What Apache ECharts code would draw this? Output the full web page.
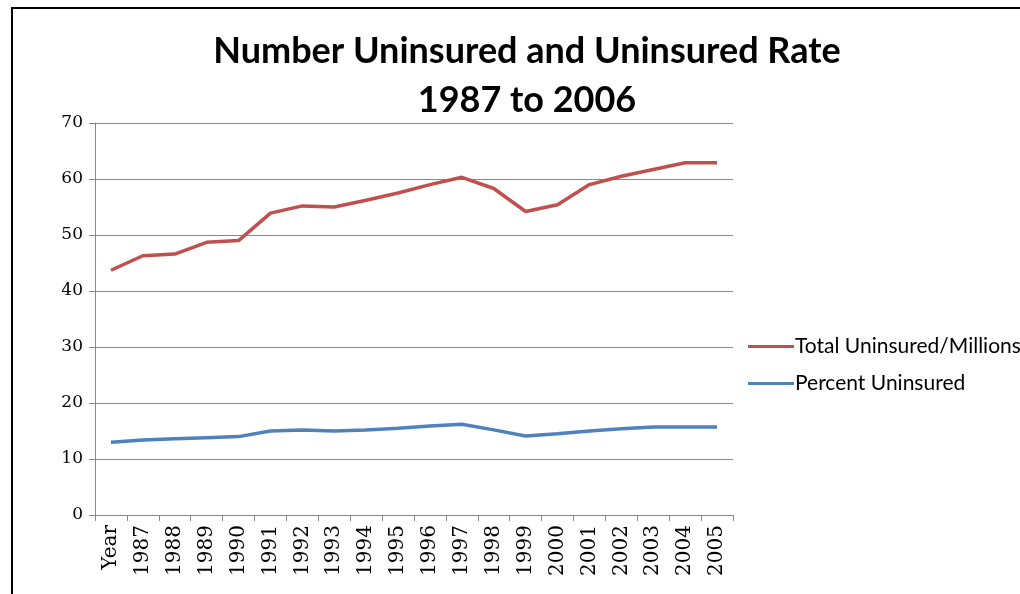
<!DOCTYPE html>
<html><head><meta charset="utf-8">
<script src="https://cdn.jsdelivr.net/npm/echarts@6/dist/echarts.min.js"></script>
<style>html,body{margin:0;padding:0;background:#fff}#c{width:1020px;height:594px}</style>
</head><body><div id="c"></div>
<script>
const categories = ["Year","1987","1988","1989","1990","1991","1992","1993","1994","1995","1996","1997","1998","1999","2000","2001","2002","2003","2004","2005"];
const totalUninsured = [43.7,46.3,46.6,48.7,49.0,53.9,55.2,55.0,56.2,57.5,59.0,60.3,58.3,54.2,55.4,59.0,60.5,61.7,62.9,62.9];
const percentUninsured = [13.0,13.4,13.6,13.8,14.0,15.0,15.2,15.0,15.2,15.5,15.9,16.2,15.2,14.1,14.5,15.0,15.4,15.7,15.7,15.7];
const yTicks = {min:0,max:70,interval:10};
const seriesNames = ["Total Uninsured/Millions","Percent Uninsured"];

const chart = echarts.init(document.getElementById('c'));
chart.setOption({
  animation:false,
  backgroundColor:'#fff',
  title:{
    text:'Number Uninsured and Uninsured Rate\n1987 to 2006',
    left:522, top:22, textAlign:'center',
    textStyle:{fontFamily:'Lato',fontWeight:'bold',fontSize:36,lineHeight:49,color:'#000'}
  },
  graphic:[{type:'polyline',shape:{points:[[12,600],[12,8],[1030,8]]},style:{stroke:'#000',lineWidth:2,fill:null}}],
  legend:{
    orient:'vertical', left:743, top:331, itemGap:16, itemWidth:46, itemHeight:3,
    icon:'rect',
    textStyle:{fontFamily:'Lato',fontSize:21,color:'#000',padding:[0,0,0,-4]},
    data:seriesNames
  },
  grid:{left:95,right:287,top:123,bottom:79,containLabel:false},
  xAxis:{
    type:'category', data:categories, boundaryGap:true,
    axisLine:{lineStyle:{color:'#888',width:1}},
    axisTick:{show:true,length:6,lineStyle:{color:'#888'}},
    axisLabel:{rotate:90,fontFamily:'DejaVu Serif',fontSize:20,color:'#000',margin:10}
  },
  yAxis:{
    type:'value', min:yTicks.min, max:yTicks.max, interval:yTicks.interval,
    axisLine:{show:true,lineStyle:{color:'#888'}},
    axisTick:{show:true,length:6,lineStyle:{color:'#888'}},
    splitLine:{lineStyle:{color:'#888',width:1}},
    axisLabel:{fontFamily:'DejaVu Serif',fontSize:17,color:'#000',margin:12}
  },
  series:[
    {name:seriesNames[0],type:'line',data:totalUninsured,symbol:'none',lineStyle:{color:'#C0504D',width:3.5},itemStyle:{color:'#C0504D'}},
    {name:seriesNames[1],type:'line',data:percentUninsured,symbol:'none',lineStyle:{color:'#4F81BD',width:3.5},itemStyle:{color:'#4F81BD'}}
  ]
});
</script></body></html>
